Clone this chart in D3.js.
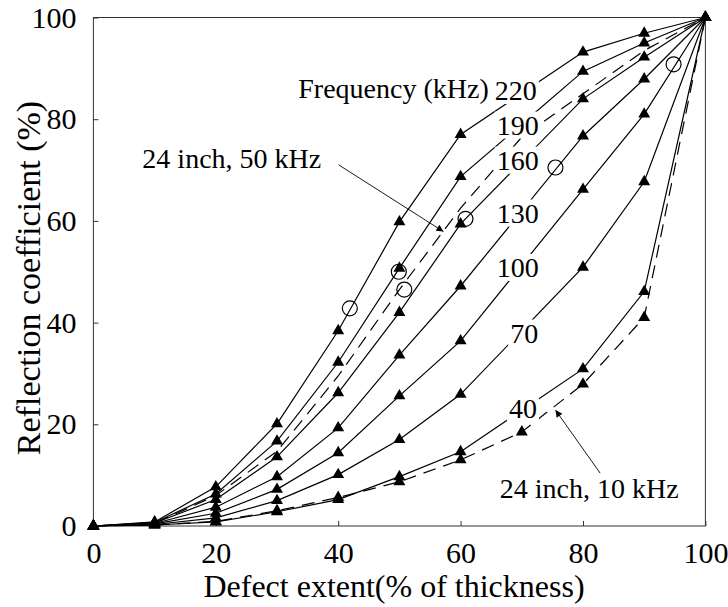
<!DOCTYPE html>
<html lang="en">
<head>
<meta charset="UTF-8">
<title>Reflection coefficient vs defect extent</title>
<script src="https://d3js.org/d3.v7.min.js"></script>
<style>
  body { margin: 0; background: #fff; }
  svg text { font-family: "Liberation Serif", "DejaVu Serif", "Times New Roman", serif; fill: #000; }
</style>
</head>
<body>
<svg id="chart" width="728" height="607"></svg>
<script>
// defect extent (% of thickness) used for the frequency curves
const extent = [0, 10, 20, 30, 40, 50, 60, 80, 90, 100];

// frequency of each curve (kHz) and its reflection coefficient (%)
const frequencies = [220, 190, 160, 130, 100, 70, 40];
const r220 = [0, 0.8, 7.7, 20.1, 38.4, 59.8, 77.0, 93.2, 96.9, 100];
const r190 = [0, 0.7, 6.3, 16.7, 32.2, 50.7, 68.7, 89.4, 95.0, 100];
const r160 = [0, 0.6, 5.2, 13.6, 26.2, 42.0, 59.4, 84.0, 92.2, 100];
const r130 = [0, 0.5, 3.7, 9.7, 19.3, 33.6, 47.2, 76.7, 87.9, 100];
const r100 = [0, 0.4, 2.5, 7.2, 14.4, 25.6, 36.4, 66.2, 81.0, 100];
const r70  = [0, 0.3, 1.6, 5.0, 10.1, 17.0, 25.9, 50.9, 67.7, 100];
const r40  = [0, 0.2, 0.8, 2.8, 5.2, 9.7, 14.6, 30.9, 46.1, 100];

// 24 inch pipe, 50 kHz (dashed, no markers)
const extent24in50 = [0, 10, 20, 30, 40, 50, 60, 70, 80, 90, 100];
const r24in50 = [0, 0.5, 6.0, 14.7, 29.5, 46.5, 62.5, 76.5, 85.0, 93.5, 100];

// 24 inch pipe, 10 kHz (dashed, with markers)
const extent24in10 = [0, 10, 20, 30, 40, 50, 60, 70, 80, 90, 100];
const r24in10 = [0, 0.2, 0.9, 3.0, 5.6, 8.7, 13.0, 18.5, 27.9, 41.0, 100];

// measured points (open circles)
const measuredX = [41.9, 49.9, 50.8, 60.8, 75.5, 94.8];
const measuredY = [42.8, 50.0, 46.5, 60.4, 70.5, 90.8];

const xTicks = [0, 20, 40, 60, 80, 100];
const yTicks = [0, 20, 40, 60, 80, 100];

const freqValues = [r220, r190, r160, r130, r100, r70, r40];

// ---- layout ----
const svg = d3.select("#chart");
const plotL = 93.4, plotR = 705.4, plotT = 17.5, plotB = 526;

const x = d3.scaleLinear().domain([0, 100]).range([plotL, plotR]);
const y = d3.scaleLinear().domain([0, 100]).range([plotB, plotT]);

const line = d3.line()
    .x(d => x(d[0]))
    .y(d => y(d[1]));

const tri = d3.symbol(d3.symbolTriangle).size(62);

// axes (ticks pointing inwards)
const xAxis = svg.append("g")
    .attr("transform", `translate(0,${plotB})`)
    .call(d3.axisBottom(x).tickValues(xTicks).tickSize(-5).tickPadding(16));
const yAxis = svg.append("g")
    .attr("transform", `translate(${plotL},0)`)
    .call(d3.axisLeft(y).tickValues(yTicks).tickSize(-5).tickPadding(17));

[xAxis, yAxis].forEach(g => {
    g.attr("font-family", null).attr("font-size", null);
    g.select(".domain").remove();
    g.selectAll(".tick line").attr("stroke", "#333");
    g.selectAll(".tick text").style("font-size", "30px");
});

// plot frame
svg.append("rect")
    .attr("x", plotL).attr("y", plotT)
    .attr("width", plotR - plotL).attr("height", plotB - plotT)
    .attr("fill", "none").attr("stroke", "#333").attr("stroke-width", 1);

// axis titles
svg.append("text")
    .attr("x", 394).attr("y", 597)
    .attr("text-anchor", "middle")
    .style("font-size", "32px")
    .text("Defect extent(% of thickness)");

svg.append("text")
    .attr("transform", "translate(40,278) rotate(-90)")
    .attr("text-anchor", "middle")
    .style("font-size", "34px")
    .text("Reflection coefficient (%)");

// ---- series ----
const plot = svg.append("g");

freqValues.forEach(vals => {
    const pts = extent.map((e, i) => [e, vals[i]]);
    plot.append("path")
        .attr("d", line(pts))
        .attr("fill", "none").attr("stroke", "#000").attr("stroke-width", 1.2);
});

plot.append("path")
    .attr("d", line(extent24in50.map((e, i) => [e, r24in50[i]])))
    .attr("fill", "none").attr("stroke", "#000").attr("stroke-width", 1.2)
    .attr("stroke-dasharray", "13,8");

plot.append("path")
    .attr("d", line(extent24in10.map((e, i) => [e, r24in10[i]])))
    .attr("fill", "none").attr("stroke", "#000").attr("stroke-width", 1.2)
    .attr("stroke-dasharray", "13,8");

// triangle markers
freqValues.forEach(vals => {
    plot.selectAll(null)
        .data(extent.map((e, i) => [e, vals[i]]))
        .enter().append("path")
        .attr("d", tri)
        .attr("transform", d => `translate(${x(d[0])},${y(d[1])})`)
        .attr("fill", "#000");
});
plot.selectAll(null)
    .data(extent24in10.map((e, i) => [e, r24in10[i]]))
    .enter().append("path")
    .attr("d", tri)
    .attr("transform", d => `translate(${x(d[0])},${y(d[1])})`)
    .attr("fill", "#000");

// measured points
plot.selectAll(null)
    .data(measuredX.map((v, i) => [v, measuredY[i]]))
    .enter().append("circle")
    .attr("cx", d => x(d[0])).attr("cy", d => y(d[1]))
    .attr("r", 7.5)
    .attr("fill", "none").attr("stroke", "#000").attr("stroke-width", 1.2);

// ---- labels sitting on the curves (white box hides the line) ----
const labels = svg.append("g");

function boxedLabel(text, dx, dy, anchor) {
    const t = labels.append("text")
        .attr("x", x(dx)).attr("y", y(dy))
        .attr("dy", "0.35em")
        .attr("text-anchor", anchor || "start")
        .style("font-size", "28px")
        .text(text);
    const b = t.node().getBBox();
    labels.insert("rect", () => t.node())
        .attr("x", b.x - 2).attr("y", b.y + 2)
        .attr("width", b.width + 4).attr("height", b.height - 4)
        .attr("fill", "#fff");
}

const freqLabelPos = [[65.6, 85.7], [65.9, 78.9], [65.9, 72.0], [65.9, 61.6],
                      [65.9, 50.9], [68.1, 38.0], [67.9, 23.2]];
frequencies.forEach((f, i) => boxedLabel(String(f), freqLabelPos[i][0], freqLabelPos[i][1]));
boxedLabel("Frequency (kHz)", 64.6, 86.0, "end");
boxedLabel("24 inch, 50 kHz", 8.0, 72.4);
boxedLabel("24 inch, 10 kHz", 66.4, 7.5);

// ---- arrows ----
svg.append("defs").append("marker")
    .attr("id", "head")
    .attr("viewBox", "0 0 10 10")
    .attr("refX", 10).attr("refY", 5)
    .attr("markerWidth", 10).attr("markerHeight", 7)
    .attr("markerUnits", "userSpaceOnUse")
    .attr("orient", "auto")
    .append("path").attr("d", "M0,0L10,5L0,10Z").attr("fill", "#000");

const arrows = [
    [[40.1, 71.0], [57.2, 57.9]],
    [[82.8, 10.4], [75.5, 22.8]]
];
arrows.forEach(a => {
    svg.append("line")
        .attr("x1", x(a[0][0])).attr("y1", y(a[0][1]))
        .attr("x2", x(a[1][0])).attr("y2", y(a[1][1]))
        .attr("stroke", "#000").attr("stroke-width", 0.9)
        .attr("marker-end", "url(#head)");
});
</script>
</body>
</html>
